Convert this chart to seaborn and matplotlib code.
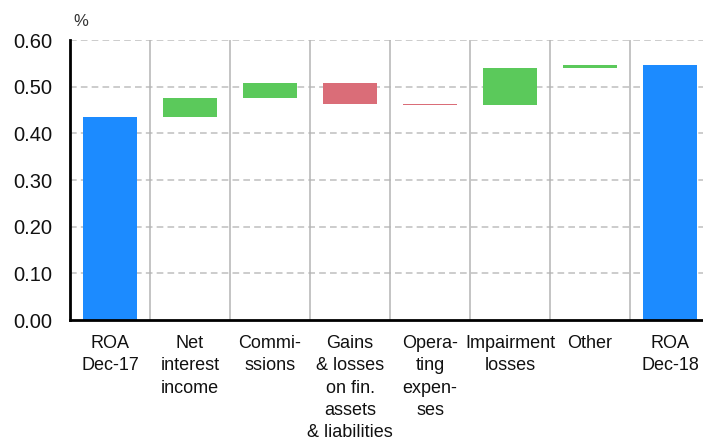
import matplotlib
matplotlib.use("Agg")
import matplotlib.pyplot as plt
import numpy as np
import pandas as pd
import seaborn as sns

# Waterfall of return on assets, Dec-17 -> Dec-18 (in %)
categories = [
    "ROA\nDec-17",
    "Net\ninterest\nincome",
    "Commi-\nssions",
    "Gains\n& losses\non fin.\nassets\n& liabilities",
    "Opera-\nting\nexpen-\nses",
    "Impairment\nlosses",
    "Other",
    "ROA\nDec-18",
]
roa_start = 0.435
contributions = [0.041, 0.032, -0.045, -0.002, 0.079, 0.007]
roa_end = 0.547
yticks = [0.0, 0.1, 0.2, 0.3, 0.4, 0.5, 0.6]

BLUE = "#1c8bff"
GREEN = "#5bc95b"
RED = "#da6d78"

# floating bar geometry derived from the cumulative sum
levels = np.concatenate([[roa_start], roa_start + np.cumsum(contributions)])
bottoms = [0.0] + list(levels[:-1]) + [0.0]
heights = [roa_start] + list(contributions) + [roa_end]
colors = [BLUE] + [GREEN if c >= 0 else RED for c in contributions] + [BLUE]

df = pd.DataFrame({"item": categories, "height": heights, "bottom": bottoms})

sns.set_theme(style="white")
plt.rcParams["font.family"] = ["Liberation Sans", "DejaVu Sans"]

fig = plt.figure(figsize=(7.03, 4.40), dpi=100)
ax = fig.add_axes([70 / 703, 120 / 440, 640 / 703, 280 / 440])

sns.barplot(data=df, x="item", y="height", bottom=df["bottom"].to_numpy(),
            color=BLUE, width=0.675, errorbar=None, ax=ax, zorder=3)
for patch, c in zip(ax.patches, colors):
    patch.set_facecolor(c)
    patch.set_edgecolor("none")

ax.set_xlim(-0.5, len(categories) - 0.5)
ax.set_ylim(0, 0.6)
ax.set_yticks(yticks)
ax.set_yticklabels([f"{v:.2f}" for v in yticks])

# dashed horizontal grid, solid category separators
for v in yticks[1:]:
    ax.axhline(v, color="#c4c4c4", lw=1.2, ls=(0, (4, 2.5)), zorder=1)
separators = np.arange(0.5, len(categories) - 0.5, 1.0)
for b in separators:
    ax.axvline(b, color="#b4b4b4", lw=1.1, zorder=1)
ax.set_xticks(separators, minor=True)

for side in ("top", "right"):
    ax.spines[side].set_visible(False)
for side in ("left", "bottom"):
    ax.spines[side].set_color("black")
    ax.spines[side].set_linewidth(2)
    ax.spines[side].set_zorder(5)

ax.tick_params(axis="y", direction="in", length=3.5, width=1, color="#555555",
               pad=13, labelsize=14.5, labelcolor="#111111")
ax.tick_params(axis="x", which="major", length=0, pad=11, labelsize=13,
               labelcolor="#111111")
ax.tick_params(axis="x", which="minor", direction="in", length=3.5, width=1,
               color="black")
for lab in ax.get_xticklabels():
    lab.set_linespacing(1.4)
    lab.set_horizontalalignment("center")

ax.set_xlabel("")
ax.set_ylabel("")
fig.text(73 / 703, 1 - 22 / 440, "%", fontsize=12, color="#333333",
         ha="left", va="center")

fig.savefig("out.png", dpi=100)
